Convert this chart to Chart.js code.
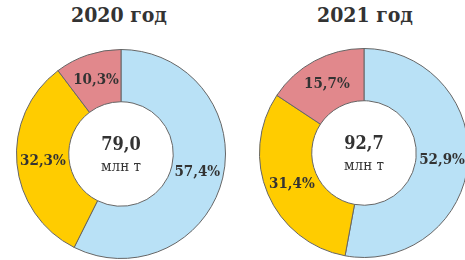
<!DOCTYPE html>
<html>
<head>
<meta charset="utf-8">
<script src="https://cdn.jsdelivr.net/npm/chart.js@4"></script>
<style>
  html, body { margin:0; padding:0; width:465px; height:260px; overflow:hidden; background:#fff; }
  .ttl { position:absolute; top:2px; width:210px; text-align:center;
         font:bold 21px 'DejaVu Serif', serif; font-stretch:condensed; color:#333; }
  canvas { position:absolute; }
</style>
</head>
<body>
<div class="ttl" id="t1" style="left:14px"></div>
<div class="ttl" id="t2" style="left:260px"></div>
<canvas id="c1" width="210" height="210" style="left:16px;top:49px"></canvas>
<canvas id="c2" width="210" height="210" style="left:259px;top:48px"></canvas>
<script>
// order clockwise from 12 o'clock: blue, yellow, pink
const years = ['2020 год', '2021 год'];
const totals = ['79,0', '92,7'];
const unit = 'млн т';
const share2020 = [57.4, 32.3, 10.3];
const share2021 = [52.9, 31.4, 15.7];
const colors = ['#b9e1f6', '#ffcc00', '#e1888c'];

const fmt = v => v.toFixed(1).replace('.', ',') + '%';

// setting ctx.font resets fontStretch, so set it afterwards
const setFont = (x, f) => { x.font = f; x.fontStretch = 'condensed'; };

const labelsPlugin = {
  id: 'labels',
  afterDatasetsDraw(chart) {
    const x = chart.ctx, ds = chart.data.datasets[0];
    x.save();
    setFont(x, 'bold 15px "DejaVu Serif", serif');
    x.fillStyle = '#333'; x.textAlign = 'center'; x.textBaseline = 'middle';
    chart.getDatasetMeta(0).data.forEach((arc, i) => {
      const p = arc.tooltipPosition();
      x.fillText(fmt(ds.data[i]), p.x, p.y);
    });
    const a = chart.getDatasetMeta(0).data[0];
    setFont(x, 'bold 18px "DejaVu Serif", serif');
    x.fillText(chart.options.plugins.center.total, a.x, a.y - 9);
    setFont(x, '15px "DejaVu Serif", serif');
    x.fillText(unit, a.x, a.y + 13);
    x.restore();
  }
};

function draw(id, data, total) {
  new Chart(document.getElementById(id), {
    type: 'doughnut',
    data: { labels: ['a', 'b', 'c'],
      datasets: [{ data, backgroundColor: colors, borderColor: '#666', borderWidth: 1 }] },
    options: {
      responsive: false, animation: false, cutout: '50%',
      plugins: { legend: { display: false }, tooltip: { enabled: false }, center: { total } }
    },
    plugins: [labelsPlugin]
  });
}

document.getElementById('t1').textContent = years[0];
document.getElementById('t2').textContent = years[1];
draw('c1', share2020, totals[0]);
draw('c2', share2021, totals[1]);
</script>
</body>
</html>
